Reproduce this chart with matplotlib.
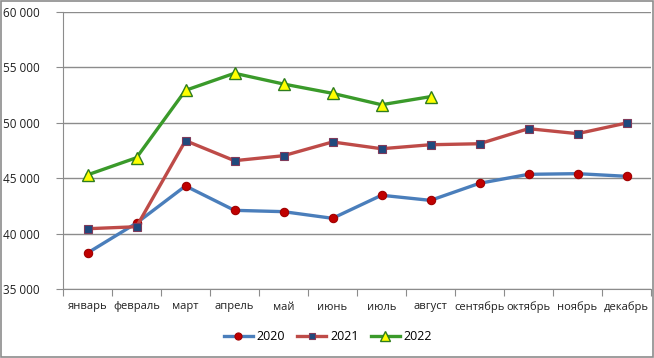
import matplotlib
matplotlib.use("Agg")
import matplotlib.pyplot as plt
from matplotlib.patches import Rectangle
from matplotlib.ticker import FuncFormatter, MultipleLocator

months = ["январь", "февраль", "март", "апрель", "май", "июнь", "июль",
          "август", "сентябрь", "октябрь", "ноябрь", "декабрь"]
y2020 = [38250, 40950, 44300, 42100, 41980, 41380, 43460, 43000, 44540, 45350, 45410, 45170]
y2021 = [40440, 40620, 48390, 46580, 47030, 48270, 47660, 48020, 48110, 49470, 49020, 49980]
y2022 = [45300, 46850, 52930, 54470, 53500, 52660, 51630, 52360]

plt.rcParams['font.family'] = ['Open Sans', 'DejaVu Sans']

fig = plt.figure(figsize=(6.54, 3.58), dpi=100)
ax = fig.add_axes([63/654, 1-289/358, 588/654, 277/358])

x = list(range(len(months)))
ax.plot(x, y2020, color="#4A7EBB", lw=2.4, marker="o", ms=6,
        mfc="#C00000", mec="#A00000", mew=0.8, label="2020", zorder=3)
ax.plot(x, y2021, color="#BE4B48", lw=2.4, marker="s", ms=5.5,
        mfc="#1F497D", mec="#7F3A5A", mew=0.8, label="2021", zorder=3)
ax.plot(x[:len(y2022)], y2022, color="#3A9A2A", lw=2.4, marker="^", ms=9,
        mfc="#FFFF00", mec="#2E7D1E", mew=1.0, label="2022", zorder=4)

ax.set_xlim(-0.5, 11.5)
ax.set_ylim(35000, 60000)
ax.yaxis.set_major_locator(MultipleLocator(5000))
ax.yaxis.set_major_formatter(FuncFormatter(lambda v, p: f"{int(v):,}".replace(",", " ")))
ax.grid(axis="y", color="#8C8C8C", lw=1.0)
ax.set_axisbelow(True)

ax.set_xticks([i - 0.5 for i in range(13)], minor=False)
ax.set_xticklabels([])
ax.set_xticks(x, minor=True)
ax.set_xticklabels(months, minor=True, fontsize=8, color="#202020")
ax.tick_params(axis="x", which="major", length=5, color="#8C8C8C", direction="out")
ax.tick_params(axis="x", which="minor", length=0, pad=9)
ax.tick_params(axis="y", length=5, color="#8C8C8C", labelsize=8.5, pad=12, labelcolor="#202020")

for s in ["top", "right"]:
    ax.spines[s].set_visible(False)
for s in ["left", "bottom"]:
    ax.spines[s].set_color("#8C8C8C")

fig.legend(loc="center", bbox_to_anchor=(328/654, 1-337/358), ncol=3, frameon=False,
           fontsize=9, handlelength=2.3, columnspacing=1.0, handletextpad=0.3,
           markerscale=0.85)

fig.patches.append(Rectangle((0.001, 0.002), 0.997, 0.995, transform=fig.transFigure,
                             fill=False, edgecolor="#8C8C8C", lw=1.2))

fig.savefig("out.png", dpi=100)
